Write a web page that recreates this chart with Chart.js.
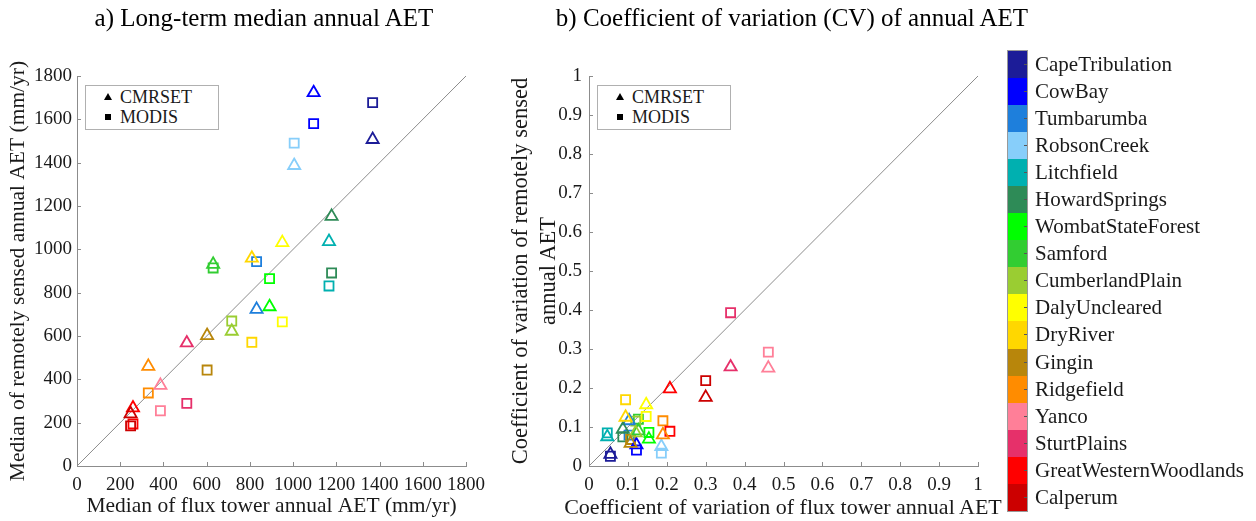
<!DOCTYPE html>
<html>
<head>
<meta charset="utf-8">
<script src="https://cdn.jsdelivr.net/npm/chart.js@4/dist/chart.umd.min.js"></script>
<style>
  body { margin: 0; background: #fff; width: 1256px; height: 521px; position: relative; overflow: hidden;
         font-family: 'Liberation Serif', 'Times New Roman', serif; color: #1a1a1a; }
  canvas { position: absolute; top: 0; }
  #chartA { left: 0; }
  #chartB { left: 500px; }
  .ttl { position: absolute; top: 2px; width: 600px; margin-left: -300px; text-align: center;
         font-size: 25px; line-height: 32px; color: #000; white-space: nowrap; }
  .axt { position: absolute; text-align: center; white-space: nowrap; font-size: 22px; color: #1a1a1a; z-index: 4; }
  #bx { left: 483px; width: 600px; top: 493px; line-height: 28px; }
  #by { left: 284px; top: 243px; width: 500px; height: 56px; line-height: 28px; transform: rotate(-90deg); font-size: 22.5px; }
  .mkLegend { position: absolute; top: 85px; width: 132px; height: 43px; border: 1px solid #b0b0b0;
              background: #fff; font-size: 18px; z-index: 2; }
  .mkLegend div { position: absolute; left: 34px; line-height: 20px; }
  .tri { position: absolute; left: -16px; top: 6px; width: 0; height: 0; border-left: 4px solid transparent;
         border-right: 4px solid transparent; border-bottom: 7px solid #000; }
  .sq { position: absolute; left: -15px; top: 7px; width: 6px; height: 6px; background: #000; }
  #colorbar { position: absolute; left: 1008px; top: 51px; z-index: 2; }
  .cell { position: relative; width: 19px; height: 27.06px; }
  .cell span { position: absolute; left: 27px; top: 0px; white-space: nowrap; font-size: 21px; line-height: 27px; color: #1a1a1a; }
  .cell i { position: absolute; right: 0; top: 13px; width: 3px; height: 1px; background: #555; }
  #cbFrame { position: absolute; left: 1007px; top: 50px; width: 19px; height: 460px; border: 1px solid #999; z-index: 3; }
</style>
</head>
<body>
<canvas id="chartA" width="528" height="521"></canvas>
<canvas id="chartB" width="580" height="521"></canvas>
<div class="ttl" style="left:264px">a) Long-term median annual AET</div>
<div class="ttl" style="left:792px">b) Coefficient of variation (CV) of annual AET</div>
<div class="axt" id="bx">Coefficient of variation of flux tower annual AET</div>
<div class="axt" id="by">Coefficient of variation of remotely sensed<br>annual AET</div>
<div class="mkLegend" style="left:85px"><div style="top:1px"><b class="tri"></b>CMRSET</div><div style="top:21px"><b class="sq"></b>MODIS</div></div>
<div class="mkLegend" style="left:597px"><div style="top:1px"><b class="tri"></b>CMRSET</div><div style="top:21px"><b class="sq"></b>MODIS</div></div>
<div id="colorbar"></div>
<div id="cbFrame"></div>
<script>
// sites, in colorbar order
const sites = ['CapeTribulation', 'CowBay', 'Tumbarumba', 'RobsonCreek', 'Litchfield', 'HowardSprings',
  'WombatStateForest', 'Samford', 'CumberlandPlain', 'DalyUncleared', 'DryRiver', 'Gingin',
  'Ridgefield', 'Yanco', 'SturtPlains', 'GreatWesternWoodlands', 'Calperum'];
const siteColors = ['#1c1c98', '#0000ff', '#1e7fdc', '#87cefa', '#00b0b0', '#2e8b57',
  '#00ff00', '#32cd32', '#9acd32', '#ffff00', '#ffd700', '#b8860b',
  '#ff8c00', '#ff7f98', '#e6306a', '#ff0000', '#cc0000'];

// a) median annual AET (mm/yr)
const towerAET  = [1368, 1095, 831, 1005, 1166, 1178, 891, 630, 716, 950, 809, 602, 330, 386, 508, 259, 248];
const cmrsetAET = [1507, 1723, 723, 1387, 1036, 1152, 735, 931, 622, 1031, 959, 602, 460, 372, 568, 268, 241];
const modisAET  = [1677, 1580, 943, 1490, 831, 891, 865, 914, 669, 665, 571, 443, 337, 255, 289, 194, 185];

// b) coefficient of variation of annual AET
const towerCV  = [0.055, 0.122, 0.103, 0.186, 0.047, 0.087, 0.154, 0.127, 0.120, 0.147, 0.094, 0.107, 0.190, 0.461, 0.364, 0.208, 0.300];
const cmrsetCV = [0.030, 0.054, 0.116, 0.050, 0.075, 0.094, 0.069, 0.090, 0.085, 0.157, 0.125, 0.058, 0.080, 0.251, 0.254, 0.198, 0.176];
const modisCV  = [0.025, 0.041, 0.079, 0.033, 0.085, 0.075, 0.086, 0.120, 0.115, 0.127, 0.170, 0.068, 0.116, 0.292, 0.393, 0.089, 0.219];

const aetTicks = [0, 200, 400, 600, 800, 1000, 1200, 1400, 1600, 1800];
const cvTicks = [0, 0.1, 0.2, 0.3, 0.4, 0.5, 0.6, 0.7, 0.8, 0.9, 1];

Chart.defaults.font.family = "'Liberation Serif', 'Times New Roman', serif";
Chart.defaults.color = '#1a1a1a';

// MATLAB style tick marks pointing into the plot
const inwardTicks = {
  id: 'inwardTicks',
  afterDraw(chart) {
    const { ctx, chartArea: a, scales: { x, y } } = chart;
    ctx.save();
    ctx.strokeStyle = '#8c8c8c';
    ctx.lineWidth = 1;
    ctx.beginPath();
    x.ticks.forEach(t => {
      const px = Math.round(x.getPixelForValue(t.value)) + 0.5;
      ctx.moveTo(px, a.bottom); ctx.lineTo(px, a.bottom - 4);
    });
    y.ticks.forEach(t => {
      const py = Math.round(y.getPixelForValue(t.value)) + 0.5;
      ctx.moveTo(a.left, py); ctx.lineTo(a.left + 4, py);
    });
    ctx.stroke();
    ctx.restore();
  }
};

function makeScatter(id, opts) {
  const xs = opts.tower;
  const tri = xs.map((v, i) => ({ x: v, y: opts.cmrset[i] }));
  const sq = xs.map((v, i) => ({ x: v, y: opts.modis[i] }));
  const lim = opts.ticks[opts.ticks.length - 1];
  const axis = (titleText, titlePad, width, isX) => ({
    type: 'linear',
    min: 0, max: lim,
    afterBuildTicks: s => { s.ticks = opts.ticks.map(v => ({ value: v })); },
    afterFit: s => { if (isX) s.height = 55; else s.width = width; },
    grid: { display: false, drawTicks: false, tickLength: 0 },
    border: { display: true, color: '#8c8c8c', width: 1 },
    ticks: { font: { size: 19 }, padding: isX ? 8 : opts.yTickPad, color: '#1a1a1a',
             maxRotation: 0, minRotation: 0, autoSkip: false, callback: v => String(v) },
    title: { display: !!titleText, text: titleText || '', font: { size: 21.5, lineHeight: 1.24 }, padding: titlePad, color: '#1a1a1a' }
  });
  return new Chart(document.getElementById(id), {
    type: 'scatter',
    data: {
      datasets: [
        { data: tri, pointStyle: 'triangle', pointRadius: 7, pointBorderWidth: 1.8,
          pointBorderColor: siteColors, pointBackgroundColor: 'rgba(255,255,255,0)', order: 1 },
        { data: sq, pointStyle: 'rect', pointRadius: 6.4, pointBorderWidth: 1.8,
          pointBorderColor: siteColors, pointBackgroundColor: 'rgba(255,255,255,0)', order: 2 },
        { type: 'line', data: [{ x: 0, y: 0 }, { x: lim, y: lim }], borderColor: '#6e6e6e',
          borderWidth: 0.8, pointRadius: 0, order: 3 }
      ]
    },
    options: {
      responsive: false,
      animation: false,
      layout: { padding: { left: 0, right: opts.padRight, top: 76, bottom: 0 } },
      plugins: {
        legend: { display: false },
        tooltip: { enabled: false },
        title: { display: false }
      },
      scales: {
        x: axis(opts.xTitle, { top: 0, bottom: 1 }, 0, true),
        y: axis(opts.yTitle, { top: 5 }, opts.yWidth, false)
      }
    },
    plugins: [inwardTicks]
  });
}

makeScatter('chartA', {
  tower: towerAET, cmrset: cmrsetAET, modis: modisAET, ticks: aetTicks,
  xTitle: 'Median of flux tower annual AET (mm/yr)',
  yTitle: 'Median of remotely sensed annual AET (mm/yr)',
  yWidth: 77, padRight: 62, yTickPad: 5
});

// panel b axis titles are page text (wider than the plot, so not squeezed)
makeScatter('chartB', {
  tower: towerCV, cmrset: cmrsetCV, modis: modisCV, ticks: cvTicks,
  xTitle: null, yTitle: null,
  yWidth: 89, padRight: 102, yTickPad: 7
});

// colorbar legend of sites
const cb = document.getElementById('colorbar');
sites.forEach((name, i) => {
  const d = document.createElement('div');
  d.className = 'cell';
  d.style.background = siteColors[i];
  d.innerHTML = '<i></i><span>' + name + '</span>';
  cb.appendChild(d);
});
</script>
</body>
</html>
